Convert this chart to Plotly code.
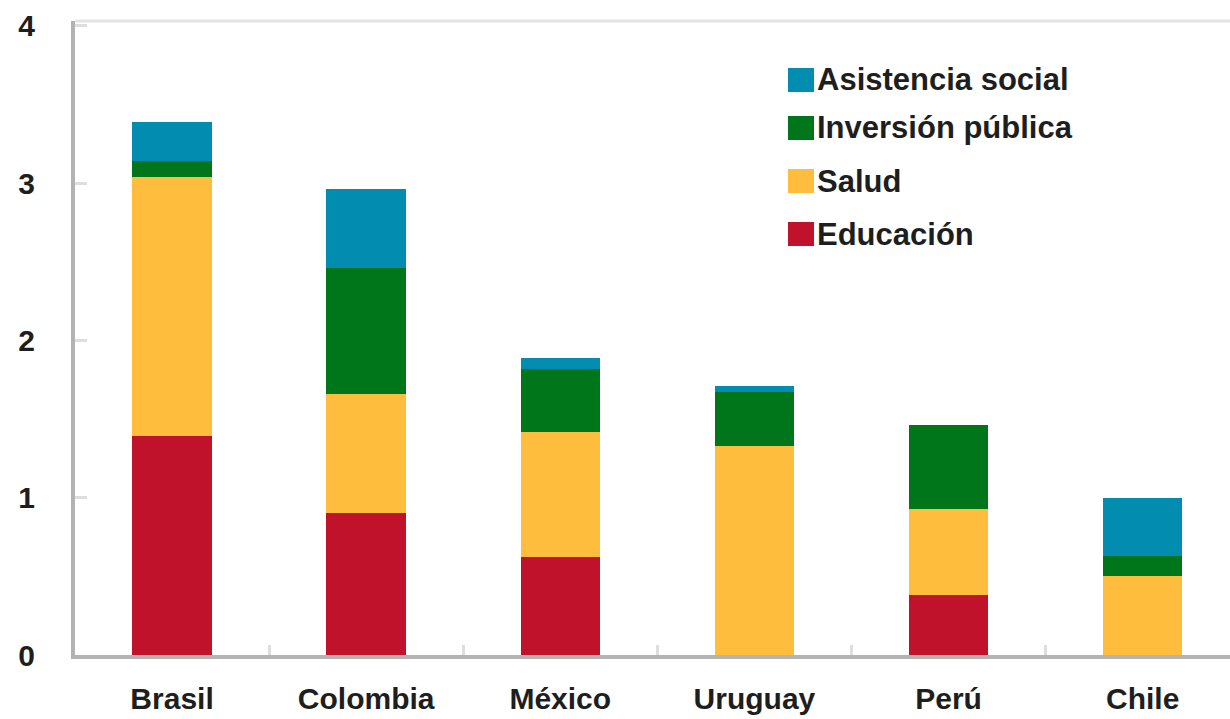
import plotly.graph_objects as go

# Data: spending increase by category and country (percentage points)
paises = ["Brasil", "Colombia", "México", "Uruguay", "Perú", "Chile"]
educacion = [1.39, 0.90, 0.62, 0.00, 0.38, 0.00]
salud = [1.65, 0.76, 0.80, 1.33, 0.55, 0.50]
inversion = [0.10, 0.80, 0.40, 0.34, 0.53, 0.13]
asistencia = [0.25, 0.50, 0.07, 0.04, 0.00, 0.37]

series = [
    ("Educación", educacion, "#c1122b"),
    ("Salud", salud, "#febd3c"),
    ("Inversión pública", inversion, "#00761a"),
    ("Asistencia social", asistencia, "#018cb0"),
]

FONT = "Liberation Sans, Arial, sans-serif"
TXT = "#1e1e1e"

W, H = 1230, 719
ML, MR, MT, MB = 75, 0, 21, 64
PW, PH = W - ML - MR, H - MT - MB

fig = go.Figure()
for nombre, valores, color in series:
    fig.add_trace(go.Bar(
        x=paises, y=valores, name=nombre,
        marker=dict(color=color, line=dict(width=0)),
        showlegend=False,
    ))

# Legend drawn as keys + labels, top entry first
shapes = []
annotations = []
legend_px = [("Asistencia social", "#018cb0", 80),
             ("Inversión pública", "#00761a", 128),
             ("Salud", "#febd3c", 181),
             ("Educación", "#c1122b", 234)]
for nombre, color, cy in legend_px:
    x0 = (788 - ML) / PW
    x1 = (814 - ML) / PW
    y0 = (H - MB - (cy + 12)) / PH
    y1 = (H - MB - (cy - 12)) / PH
    shapes.append(dict(type="rect", xref="paper", yref="paper",
                       x0=x0, x1=x1, y0=y0, y1=y1,
                       fillcolor=color, line=dict(width=0)))
    annotations.append(dict(xref="paper", yref="paper",
                            x=(815 - ML) / PW, y=(H - MB - cy) / PH,
                            text="<b>" + nombre + "</b>", showarrow=False,
                            xanchor="left", yanchor="middle",
                            font=dict(family=FONT, size=31, color=TXT)))

# faint top frame line
shapes.append(dict(type="line", xref="paper", yref="paper",
                   x0=0, x1=1, y0=1, y1=1,
                   line=dict(color="#e4e4e4", width=3)))

fig.update_layout(
    width=W, height=H,
    margin=dict(l=ML, r=MR, t=MT, b=MB, autoexpand=False),
    paper_bgcolor="white", plot_bgcolor="white",
    barmode="stack", bargap=0.59,
    shapes=shapes, annotations=annotations,
    showlegend=False,
    xaxis=dict(
        type="category", range=[-0.5, 5.45],
        tickvals=paises, ticktext=["<b>" + p + "</b>" for p in paises],
        showline=True, linecolor="#b3b3b3", linewidth=4,
        ticks="inside", tickson="boundaries", ticklen=10,
        tickcolor="#dedede", tickwidth=3,
        showgrid=False, zeroline=False, automargin=False,
        tickfont=dict(family=FONT, size=30, color=TXT),
        ticklabelstandoff=14,
    ),
    yaxis=dict(
        range=[0, 4.03], tickvals=[0, 1, 2, 3, 4],
        ticktext=["<b>%d</b>" % v for v in [0, 1, 2, 3, 4]],
        showline=True, linecolor="#b3b3b3", linewidth=4,
        ticks="inside", ticklen=12, tickcolor="#dedede", tickwidth=3,
        showgrid=False, zeroline=False, automargin=False,
        tickfont=dict(family=FONT, size=30, color=TXT),
        ticklabelstandoff=30,
    ),
)

fig.write_html("out.html")
